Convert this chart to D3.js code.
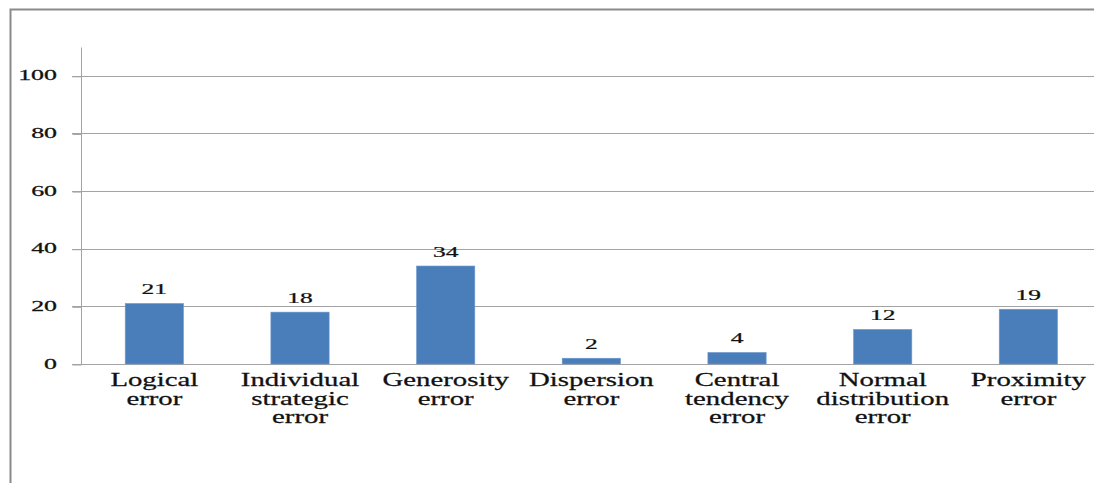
<!DOCTYPE html>
<html>
<head>
<meta charset="utf-8">
<script src="https://cdn.jsdelivr.net/npm/d3@7"></script>
</head>
<body style="margin:0">
<svg id="chart"></svg>
<script>
// chart values
var categories = ['Logical error', 'Individual strategic error', 'Generosity error',
                  'Dispersion error', 'Central tendency error', 'Normal distribution error',
                  'Proximity error'];
var labelLines = [['Logical', 'error'], ['Individual', 'strategic', 'error'], ['Generosity', 'error'],
                  ['Dispersion', 'error'], ['Central', 'tendency', 'error'],
                  ['Normal', 'distribution', 'error'], ['Proximity', 'error']];
var values = [21, 18, 34, 2, 4, 12, 19];
var yTicks = [0, 20, 40, 60, 80, 100];

var width = 1094, height = 483;
var serif = 'Liberation Serif';
var svg = d3.select('#chart').attr('width', width).attr('height', height)
  .style('display', 'block');

// outer frame (only top and left edges are visible)
svg.append('path')
  .attr('d', 'M10.5,' + height + 'V9.5H' + width)
  .attr('fill', 'none')
  .attr('stroke', '#8a8a8a')
  .attr('stroke-width', 2);

var x = d3.scaleBand().domain(categories).range([81.5, 1101.2]).padding(0);
var y = d3.scaleLinear().domain([0, 110]).range([364, 47]);

// gridlines
svg.append('g')
  .selectAll('line')
  .data(yTicks.slice(1))
  .enter().append('line')
    .attr('x1', 72).attr('x2', width)
    .attr('y1', function(d){ return Math.round(y(d)) + 0.5; })
    .attr('y2', function(d){ return Math.round(y(d)) + 0.5; })
    .attr('stroke', '#a3a3a3');

// y axis
var yAxis = svg.append('g')
  .attr('transform', 'translate(81.5,0.5)')
  .call(d3.axisLeft(y).tickValues(yTicks).tickSize(9).tickFormat(''));
yAxis.select('.domain').attr('stroke', '#a3a3a3').attr('d', 'M0,' + y(110) + 'V' + y(0));
yAxis.selectAll('.tick line').attr('stroke', '#a3a3a3');

function textStyle(sel, size) {
  sel.style('font-family', serif)
    .style('font-size', size + 'px')
    .attr('fill', '#111')
    .attr('stroke', '#111')
    .attr('stroke-width', 0.25);
}

svg.append('g')
  .selectAll('text')
  .data(yTicks)
  .enter().append('text')
    .attr('transform', function(d){ return 'translate(57,' + (y(d) + 4.5) + ') scale(1.85,1)'; })
    .attr('text-anchor', 'end')
    .call(textStyle, 14)
    .text(function(d){ return d; });

// x axis line
svg.append('line')
  .attr('x1', 72).attr('x2', width)
  .attr('y1', y(0) + 0.5).attr('y2', y(0) + 0.5)
  .attr('stroke', '#a3a3a3');

// bars
var bw = x.bandwidth() * 0.4;
svg.append('g')
  .selectAll('rect')
  .data(values)
  .enter().append('rect')
    .attr('x', function(d, i){ return x(categories[i]) + (x.bandwidth() - bw) / 2; })
    .attr('y', function(d){ return y(d); })
    .attr('width', bw)
    .attr('height', function(d){ return y(0) - y(d); })
    .attr('fill', '#4a7ebb')
    .attr('stroke', '#6f98cc')
    .attr('stroke-width', 0.6);

// value labels
svg.append('g')
  .selectAll('text')
  .data(values)
  .enter().append('text')
    .attr('transform', function(d, i){
      return 'translate(' + (x(categories[i]) + x.bandwidth() / 2) + ',' + (y(d) - 9.5) + ') scale(1.7,1)';
    })
    .attr('text-anchor', 'middle')
    .call(textStyle, 15)
    .text(function(d){ return d; });

// category labels
var cats = svg.append('g')
  .selectAll('g')
  .data(categories)
  .enter().append('g')
    .attr('transform', function(d){ return 'translate(' + (x(d) + x.bandwidth() / 2) + ',386)'; });

cats.each(function(d, i){
  d3.select(this).selectAll('text')
    .data(labelLines[i])
    .enter().append('text')
      .attr('transform', function(t, j){ return 'translate(0,' + (j * 18.5) + ') scale(1.6,1)'; })
      .attr('text-anchor', 'middle')
      .call(textStyle, 18)
      .text(function(t){ return t; });
});
</script>
</body>
</html>
